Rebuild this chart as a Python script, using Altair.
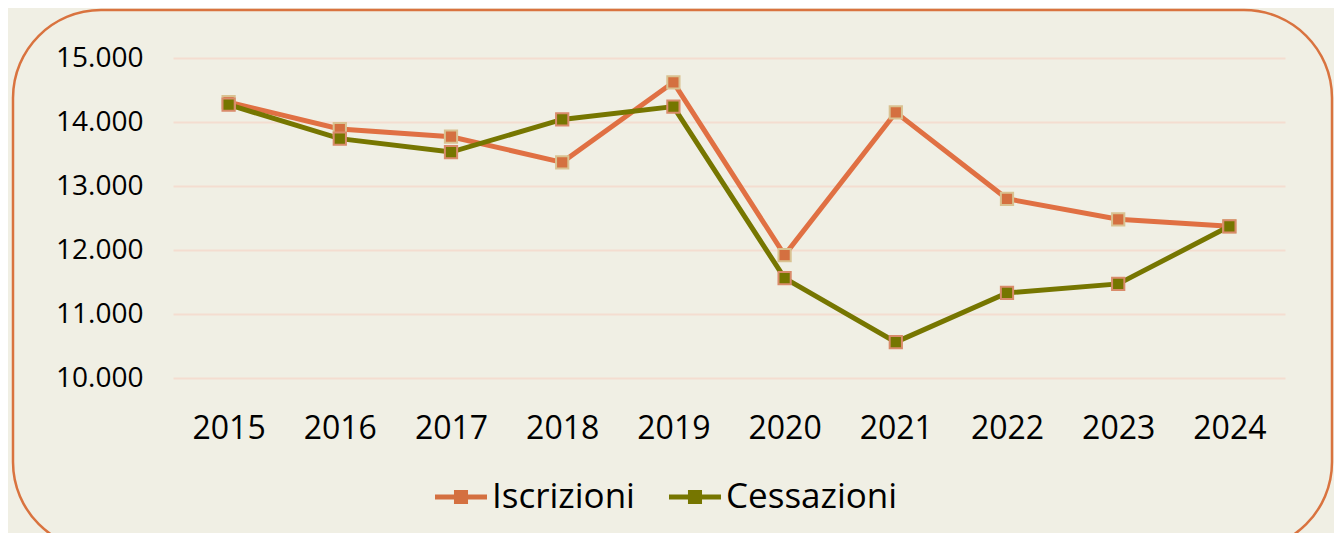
import altair as alt
import pandas as pd

years = ["2015", "2016", "2017", "2018", "2019", "2020", "2021", "2022", "2023", "2024"]
iscrizioni = [14310, 13890, 13770, 13370, 14620, 11920, 14150, 12800, 12480, 12370]
cessazioni = [14270, 13740, 13530, 14040, 14240, 11560, 10560, 11330, 11470, 12370]
series = ["Iscrizioni", "Cessazioni"]
y_ticks = [10000, 11000, 12000, 13000, 14000, 15000]

line_colors = ["#E07043", "#767600"]
marker_fills = ["#D47040", "#767600"]
marker_edges = ["#D9C291", "#D98B6A"]

rows = []
for name, vals in zip(series, [iscrizioni, cessazioni]):
    for yr, v in zip(years, vals):
        rows.append({"anno": yr, "valore": v, "serie": name})
df = pd.DataFrame(rows)

FONT = "Open Sans"
W, H = 1112, 320
LEG_X, LEG_Y = 262, 413
SYM = 2704

base = alt.Chart(df).encode(
    x=alt.X("anno:O", scale=alt.Scale(type="point", padding=0.5),
            axis=alt.Axis(title=None, labelAngle=0, labelFontSize=32, labelFont=FONT,
                          labelColor="#000000", labelBaseline="alphabetic", labelPadding=60,
                          ticks=False, tickSize=0, domain=False, grid=False)),
    y=alt.Y("valore:Q", scale=alt.Scale(domain=[10000, 15000], nice=False, zero=False),
            axis=alt.Axis(title=None, values=y_ticks, labelFontSize=28, labelFont=FONT,
                          labelColor="#000000", labelPadding=30, ticks=False, tickSize=0,
                          domain=False, grid=True, gridColor="#F4DDD0", gridWidth=2,
                          labelExpr="replace(format(datum.value, ',d'), ',', '.')")),
)

lines = base.mark_line(strokeWidth=5).encode(
    color=alt.Color("serie:N", sort=series, scale=alt.Scale(range=line_colors), legend=None),
)

points = base.mark_point(shape="square", filled=True, size=150, strokeWidth=2, opacity=1).encode(
    fill=alt.Fill("serie:N", scale=alt.Scale(domain=series, range=marker_fills),
                  legend=alt.Legend(title=None, orient="none", legendX=LEG_X, legendY=LEG_Y,
                                    direction="horizontal",
                                    symbolType="M-1,-0.1H1V0.1H-1Z M-0.27,-0.27H0.27V0.27H-0.27Z",
                                    symbolSize=SYM, symbolStrokeWidth=0, symbolOpacity=1,
                                    labelFontSize=35, labelFont=FONT, labelColor="#000000",
                                    labelLimit=400, labelOffset=5, columnPadding=34, padding=0)),
    stroke=alt.Stroke("serie:N", scale=alt.Scale(domain=series, range=marker_edges), legend=None),
)

border = alt.Chart(alt.Data(values=[{"k": 1}])).mark_rect(
    cornerRadius=88, fill="transparent", stroke="#D9733F", strokeWidth=2.5
).encode(
    x=alt.value(-160), x2=alt.value(1159), y=alt.value(-48), y2=alt.value(492)
)

chart = alt.layer(border, lines, points).resolve_scale(
    color="independent", fill="independent", stroke="independent"
).properties(
    width=W, height=H,
    padding={"left": 165, "top": 50, "right": 49, "bottom": 155},
    autosize=alt.AutoSizeParams(type="none"),
    background="#F0EFE4",
).configure_view(strokeWidth=0)

chart.save("out.html", embed_options={"renderer": "svg", "actions": False})
